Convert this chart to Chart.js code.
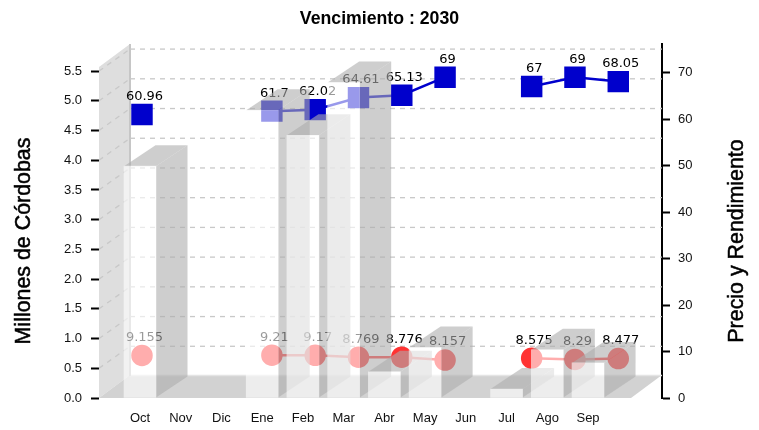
<!DOCTYPE html>
<html><head><meta charset="utf-8">
<style>html,body{margin:0;padding:0;background:#fff}canvas{display:block}</style>
<script src="https://cdn.jsdelivr.net/npm/chart.js@4"></script>
</head><body><canvas id="c" width="759" height="430"></canvas>
<script>
const categories=['Oct','Nov','Dic','Ene','Feb','Mar','Abr','May','Jun','Jul','Ago','Sep'];
const millones=[3.9,null,null,4.84,4.42,5.31,0.44,0.85,null,0.15,0.81,0.59];
const precio=[60.96,null,null,61.7,62.02,64.61,65.13,69,null,67,69,68.05];
const rendimiento=[9.155,null,null,9.21,9.17,8.769,8.776,8.157,null,8.575,8.29,8.477];
const leftTicks=[0,0.5,1,1.5,2,2.5,3,3.5,4,4.5,5,5.5];
const rightTicks=[0,10,20,30,40,50,60,70];
const titleText='Vencimiento : 2030';
const leftTitle='Millones de Córdobas';
const rightTitle='Precio y Rendimiento';

const pts=a=>a.map((y,x)=>({x,y}));
const DX=31.5,DY=21,WALLX=31,WALLY=22;
const SIDE='rgba(173,173,173,0.6)';

const scene={
 id:'scene',
 beforeDatasetsDraw(ch){
  const c=ch.ctx,a=ch.chartArea,yL=ch.scales.yL;
  const y0=a.bottom,yTop=yL.getPixelForValue(5.57),L=a.left,R=a.right,BL=L+WALLX,FR=R-WALLX;
  c.save();
  c.fillStyle='#dedede';
  c.beginPath();c.moveTo(L,y0);c.lineTo(L,yTop);c.lineTo(BL,a.top);c.lineTo(BL,y0-WALLY-1);c.closePath();c.fill();
  c.fillStyle='#d2d2d2';
  c.beginPath();c.moveTo(L,y0);c.lineTo(FR,y0);c.lineTo(R,y0-WALLY-1);c.lineTo(BL,y0-WALLY-1);c.closePath();c.fill();
  c.strokeStyle='#e4e4e4';c.lineWidth=1.5;
  c.beginPath();c.moveTo(BL,y0-WALLY-0.5);c.lineTo(R,y0-WALLY-0.5);c.stroke();
  c.strokeStyle='#c6c6c6';c.lineWidth=2;
  c.beginPath();c.moveTo(BL,a.top);c.lineTo(BL,y0-WALLY);c.stroke();
  c.strokeStyle='#c8c8c8';c.lineWidth=1.3;c.setLineDash([5,5]);
  leftTicks.forEach(v=>{
   if(v===0)return;
   const y=yL.getPixelForValue(v);
   c.beginPath();c.moveTo(L,y);c.lineTo(BL,y-WALLY);c.stroke();
   c.beginPath();c.moveTo(BL,y-WALLY);c.lineTo(R,y-WALLY);c.stroke();
  });
  c.restore();
 },
 beforeDatasetDraw(ch,args){
  if(args.index!==0)return;
  const c=ch.ctx;
  c.save();
  c.font='13px "DejaVu Sans"';c.fillStyle='#000';c.textAlign='center';c.textBaseline='middle';
  [1,2].forEach(i=>{
   const m=ch.getDatasetMeta(i),d=ch.data.datasets[i].data;
   m.data.forEach((p,k)=>{
    if(d[k].y==null)return;
    c.fillText(String(d[k].y),p.x+2.5,p.y-18);
   });
  });
  c.restore();
  const m=ch.getDatasetMeta(0),data=ch.data.datasets[0].data;
  m.data.forEach((b,k)=>{
   if(data[k].y==null)return;
   const l=b.x-b.width/2,r=b.x+b.width/2,t=b.y,bt=b.base;
   c.save();c.fillStyle=SIDE;
   c.beginPath();c.moveTo(r,t);c.lineTo(r+DX,t-DY);c.lineTo(r+DX,bt-DY);c.lineTo(r,bt);c.closePath();c.fill();
   c.beginPath();c.moveTo(l,t);c.lineTo(r,t);c.lineTo(r+DX,t-DY);c.lineTo(l+DX,t-DY);c.closePath();c.fill();
   c.restore();
   b.draw(c);
  });
  return false;
 },
 afterDraw(ch){
  const c=ch.ctx;
  c.save();
  c.font='21.4px "Liberation Sans"';c.fillStyle='#000';c.strokeStyle='#000';c.lineWidth=0.5;c.textAlign='center';c.textBaseline='middle';
  [[24,241,leftTitle],[737,241,rightTitle]].forEach(([x,y,s])=>{
   c.save();c.translate(x,y);c.rotate(-Math.PI/2);c.fillText(s,0,0);c.strokeText(s,0,0);c.restore();
  });
  c.restore();
 }
};

new Chart(document.getElementById('c'),{
 data:{datasets:[
  {type:'bar',label:'Millones de Córdobas',data:pts(millones),xAxisID:'xB',yAxisID:'yL',order:0,grouped:false,
   backgroundColor:'rgba(255,255,255,0.6)',barThickness:32,clip:false},
  {type:'line',label:'Precio',data:pts(precio),xAxisID:'xP',yAxisID:'yR',order:1,clip:false,
   borderColor:'#0000cc',backgroundColor:'#0000cc',borderWidth:2.5,pointStyle:'rect',pointRadius:13.4,spanGaps:false,tension:0},
  {type:'line',label:'Rendimiento',data:pts(rendimiento),xAxisID:'xP',yAxisID:'yR',order:1,clip:false,
   borderColor:'#ff3333',backgroundColor:'#ff3333',borderWidth:2.5,pointStyle:'circle',pointRadius:9.5,spanGaps:false,tension:0}
 ]},
 options:{
  responsive:false,animation:false,devicePixelRatio:1,
  layout:{padding:0},
  plugins:{legend:{display:false},tooltip:{enabled:false},
   title:{display:true,text:titleText,color:'#000',font:{family:'"Liberation Sans"',size:17.7,weight:'bold'},padding:{top:8,bottom:14.8}}},
  scales:{
   xB:{type:'linear',position:'bottom',offset:false,min:-1.007,max:12.816,
    afterBuildTicks(s){s.ticks=categories.map((_,i)=>({value:i}));},
    afterFit(s){s.height=32;},
    grid:{display:false,offset:false},border:{display:false},
    ticks:{autoSkip:false,maxRotation:0,padding:5,color:'#111',font:{family:'"Liberation Sans"',size:13},callback:v=>categories[v]}},
   xP:{type:'linear',display:false,offset:false,min:-0.993,max:12.01},
   yL:{type:'linear',position:'left',min:0,max:5.955,
    afterBuildTicks(s){s.ticks=leftTicks.map(value=>({value}));},
    afterFit(s){s.width=99;},
    grid:{drawOnChartArea:false,tickLength:8,tickWidth:2,tickColor:'#000'},border:{display:false},
    ticks:{padding:9,color:'#111',font:{family:'"Liberation Sans"',size:13},callback:v=>v.toFixed(1)}},
   yR:{type:'linear',position:'right',min:0,max:76.13,
    afterBuildTicks(s){s.ticks=rightTicks.map(value=>({value}));},
    afterFit(s){s.width=97;},
    grid:{drawOnChartArea:false,tickLength:8,tickWidth:2,tickColor:'#000'},border:{display:true,color:'#000',width:2},
    ticks:{padding:8,color:'#111',font:{family:'"Liberation Sans"',size:13},callback:v=>String(v)}}
  }
 },
 plugins:[scene]
});
</script></body></html>
